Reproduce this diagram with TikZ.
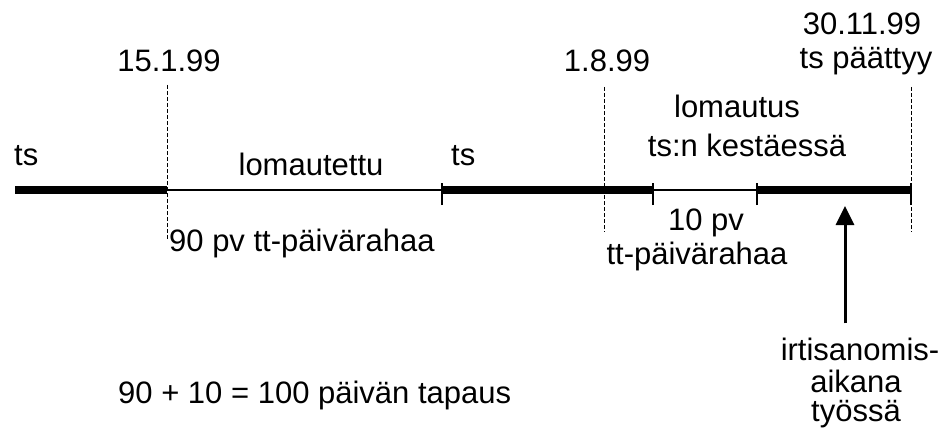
\documentclass[tikz,border=0pt]{standalone}
\usepackage{fontspec}
\setmainfont{Liberation Sans}
\usetikzlibrary{arrows.meta}
\begin{document}
\begin{tikzpicture}[x=1pt,y=-1pt,
  lbl/.style={inner sep=0pt,font=\fontsize{31}{33}\selectfont},
  thick line/.style={line width=8pt},
  thin line/.style={line width=1.1pt},
  tickmark/.style={line width=1.3pt},
  guide/.style={line width=0.9pt,dash pattern=on 4pt off 2pt}]
\useasboundingbox (0,0) rectangle (949,433);
% timeline points
\coordinate (a0) at (15,190);
\coordinate (a1) at (167,190);
\coordinate (a2) at (442,190);
\coordinate (a3) at (653,190);
\coordinate (a4) at (757,190);
\coordinate (a5) at (911,190);
% guides
\coordinate (g1t) at (167,85);  \coordinate (g1b) at (167,240);
\coordinate (g2t) at (604,87);  \coordinate (g2b) at (604,232);
\coordinate (g3t) at (911,87);  \coordinate (g3b) at (911,232);
\draw[guide] (g1t) -- (g1b);
\draw[guide] (g2t) -- (g2b);
\draw[guide] (g3t) -- (g3b);
% segments
\draw[thick line] (a0) -- (a1);
\draw[thin line] (a1) -- (a2);
\draw[thick line] (a2) -- (a3);
\draw[thin line] (a3) -- (a4);
\draw[thick line] (a4) -- (a5);
% ticks
\foreach \p in {a2,a3,a4,a5}
  \draw[tickmark] ([yshift=-15pt]\p) -- ([yshift=7pt]\p);
% labels
\node[lbl] (d1) at (169,61) {15.1.99};
\node[lbl] (d2) at (607,61) {1.8.99};
\node[lbl] (d3) at (862,24) {30.11.99};
\node[lbl] (d3b) at (866,61) {ts päättyy};
\node[lbl,anchor=west] (ts1) at (14,156) {ts};
\node[lbl] (lom) at (311,164) {lomautettu};
\node[lbl,anchor=west] (ts2) at (451,156) {ts};
\node[lbl] (lm2) at (737,106) {lomautus};
\node[lbl] (kest) at (747,145) {ts:n kestäessä};
\node[lbl,anchor=west] (pv90) at (169,243) {90 pv tt-päivärahaa};
\node[lbl] (pv10) at (706,223) {10 pv};
\node[lbl] (tt10) at (697,256) {tt-päivärahaa};
\node[lbl] (irt) at (860,349) {irtisanomis-};
\node[lbl] (aik) at (856,381) {aikana};
\node[lbl] (tyo) at (856,414) {työssä};
\node[lbl,anchor=west] (sum) at (118,395) {90 + 10 = 100 päivän tapaus};
% arrow
\coordinate (tip) at (845,206);
\draw[line width=3pt,-{Triangle[length=19pt,width=18pt]}] (irt.north -| tip) ++(0,-14) -- (tip);
\end{tikzpicture}
\end{document}
